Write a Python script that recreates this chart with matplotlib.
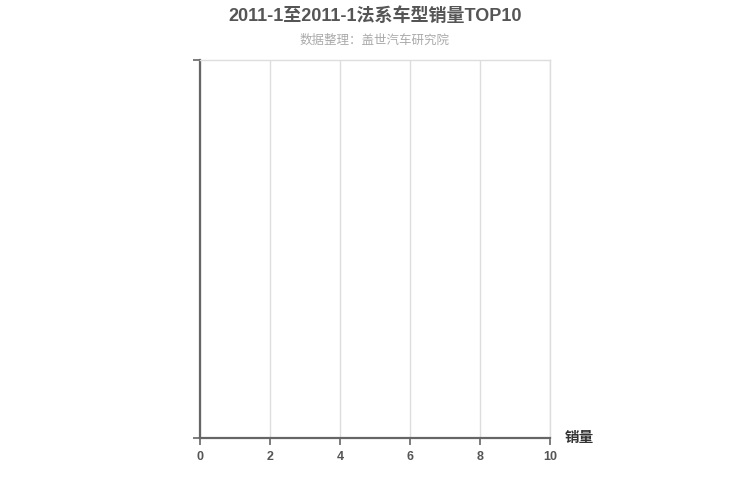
import matplotlib
matplotlib.use('Agg')
from matplotlib import pyplot as plt

plt.rcParams['font.family'] = ['Liberation Sans', 'Noto Sans CJK SC', 'DejaVu Sans']

# no data in the source chart: the TOP10 list is empty
models = []
sales = []
xticks = [0, 2, 4, 6, 8, 10]

fig = plt.figure(figsize=(7.5, 5), dpi=100)
ax = fig.add_axes([200 / 750, 1 - 438 / 500, 350 / 750, 378 / 500])

ax.barh(models, sales, color='#c23531')

ax.set_xlim(0, 10)
ax.set_ylim(0, 1)
ax.set_xticks(xticks)
ax.set_xticklabels([str(t) for t in xticks], fontsize=9, color='#555555', fontweight='bold')
ax.set_yticks([0, 1])
ax.set_yticklabels([])

ax.grid(axis='x', color='#dddddd', linewidth=1)
ax.set_axisbelow(True)
ax.tick_params(axis='x', length=5, width=1.2, color='#666666', pad=4)
ax.tick_params(axis='y', length=5, width=1.2, color='#666666')

for side in ['top', 'right']:
    ax.spines[side].set_color('#dddddd')
    ax.spines[side].set_linewidth(1)
for side in ['left', 'bottom']:
    ax.spines[side].set_color('#666666')
    ax.spines[side].set_linewidth(1.6)

fig.text(0.5, 1 - 16 / 500, '2011-1至2011-1法系车型销量TOP10', ha='center', va='center',
         fontsize=13, fontweight='bold', color='#555555')
fig.text(0.5, 1 - 41 / 500, '数据整理：盖世汽车研究院', ha='center', va='center',
         fontsize=9, color='#aaaaaa')
fig.text(565 / 750, 1 - 438 / 500, '销量', ha='left', va='center',
         fontsize=10.5, fontweight='bold', color='#333333')

fig.savefig('out.png', dpi=100, facecolor='white')
